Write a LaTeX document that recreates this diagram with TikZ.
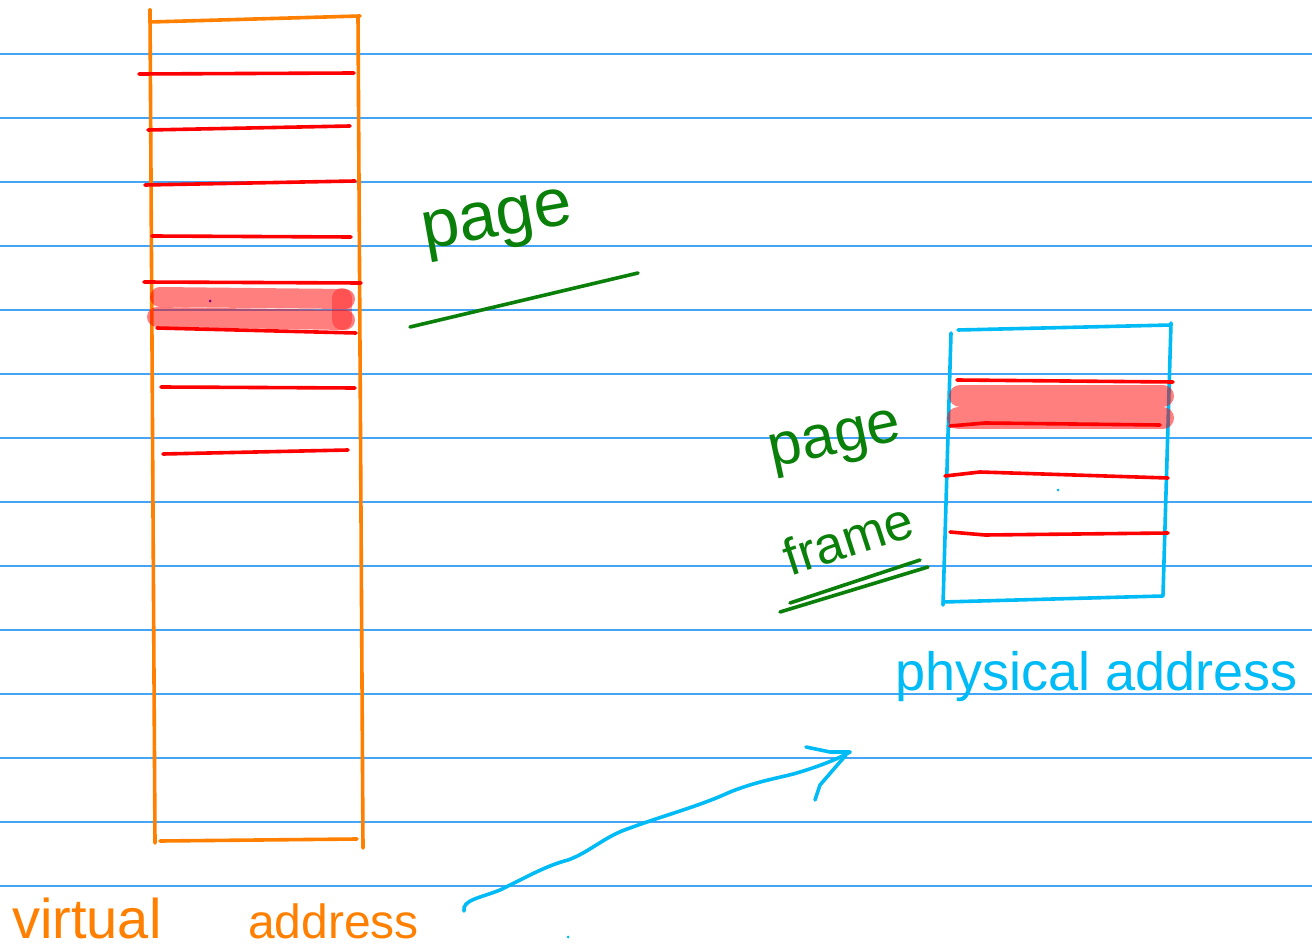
\documentclass[tikz,border=0pt]{standalone}
\usepackage{fontspec}
\setmainfont{Liberation Sans}
\begin{document}
\begin{tikzpicture}[x=1pt,y=-1pt,
  ruled/.style={draw=paperblue,line width=1.3pt},
  ink/.style={line width=3.6pt,line cap=round,line join=round},
  vbox/.style={ink,draw=vorange},
  pbox/.style={ink,draw=pcyan},
  divider/.style={ink,draw=red},
  marker/.style={draw=red,line width=20pt,line cap=round,opacity=0.5},
  note/.style={inner sep=0pt,font=\fontsize{#1}{#1}\selectfont}]
\definecolor{paperblue}{HTML}{45A4F5}
\definecolor{vorange}{HTML}{FF8000}
\definecolor{pcyan}{HTML}{00BBF5}
\definecolor{pgreen}{HTML}{0A7F0A}
\useasboundingbox[fill=white] (0,0) rectangle (1312,949);

% ruled paper
\foreach \y in {54,118,182,246,310,374,438,502,566,630,694,758,822,886}
  \draw[ruled] (0,\y) -- (1312,\y);

% virtual address space
\coordinate (vtl) at (150,22);
\coordinate (vtr) at (360,16);
\coordinate (vbl) at (155,843);
\coordinate (vbr) at (363,848);
\draw[vbox] (vtl) -- (150,10);
\draw[vbox] (vtl) -- (vtr);
\draw[vbox] (150,10) -- (vbl);
\draw[vbox] (358,16) -- (vbr);
\draw[vbox] (160,841) -- (357,839);

% pages of the virtual space
\draw[marker] (160,297) -- (345,299);
\draw[marker] (157,317) -- (345,320);
\draw[marker,opacity=0.35] (342,298) -- (342,320);
\draw[divider] (139,74) -- (354,73);
\draw[divider] (148,130) -- (350,126);
\draw[divider] (145,185) -- (355,181);
\draw[divider] (152,236) -- (351,237);
\draw[divider] (144,282) -- (361,283);
\draw[divider] (157,328) -- (356,333);
\draw[divider] (161,387) -- (355,388);
\draw[divider] (163,454) -- (348,450);
\fill[violet] (210,301) circle (1.5);

% label: page
\node[note=68,text=pgreen,rotate=10] (pg) at (498,225) {page};
\draw[ink,draw=pgreen] (410,327) -- (638,273);

% physical address space
\draw[pbox] (958,330) -- (1171,325);
\draw[pbox] (951,333) -- (943,605);
\draw[pbox] (1171,323) -- (1163,595);
\draw[pbox] (943,602) -- (1163,596);

% frames of the physical space
\draw[marker,line width=22pt] (960,396) -- (1163,396);
\draw[marker,line width=22pt] (958,418) -- (1163,418);
\draw[divider] (957,380) -- (1173,382);
\draw[divider] (950,426) -- (985,423) -- (1160,425);
\draw[divider] (945,476) -- (980,472) -- (1168,478);
\draw[divider] (950,532) -- (985,535) -- (1168,533);
\fill[pcyan] (1058,490) circle (1.5);

% label: page frame
\node[note=60,text=pgreen,rotate=12] (pf1) at (836,444) {page};
\node[note=52,text=pgreen,rotate=18] (pf2) at (848,538) {frame};
\draw[ink,draw=pgreen] (780,612) -- (928,567);
\draw[ink,draw=pgreen] (790,603) -- (920,560);

% captions
\node[note=54,text=pcyan,anchor=base west] (phys) at (895,690) {physical address};
\node[note=56,text=vorange,anchor=base west] (virt1) at (12,938) {virtual};
\node[note=48,text=vorange,anchor=base west] (virt2) at (248,938) {address};
\fill[pcyan] (568,937) circle (1.5);

% translation arrow
\coordinate (from) at (464,911);
\coordinate (to) at (850,752);
\draw[ink,draw=pcyan] (from) .. controls (462,900) and (480,898) .. (500,890)
  .. controls (525,878) and (545,866) .. (568,860)
  .. controls (590,852) and (605,836) .. (630,828)
  .. controls (665,815) and (700,806) .. (730,792)
  .. controls (760,780) and (785,777) .. (800,772)
  .. controls (820,766) and (840,758) .. (to);
\draw[ink,draw=pcyan] (806,747) -- (830,752) -- (850,752);
\draw[ink,draw=pcyan] (815,800) -- (820,785) -- (846,755);
\end{tikzpicture}
\end{document}
